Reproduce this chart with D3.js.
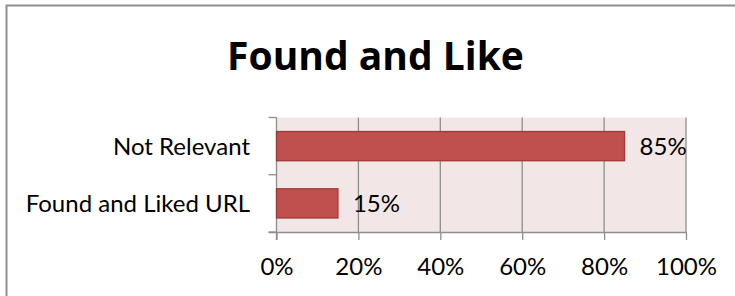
<!DOCTYPE html>
<html>
<head>
<meta charset="utf-8">
<script src="https://cdn.jsdelivr.net/npm/d3@7"></script>
<style>
  body { margin: 0; background: #fff; }
  svg text { font-family: Lato, "Open Sans", sans-serif; fill: #000; }
</style>
</head>
<body>
<svg id="viz" width="735" height="296"></svg>
<script>
"use strict";
const categories = ["Not Relevant", "Found and Liked URL"];
const shares = [0.85, 0.15];
const xTicks = [0, 0.2, 0.4, 0.6, 0.8, 1.0];
const chartTitle = "Found and Like";

const svg = d3.select("#viz");
const margin = { top: 117.5, left: 276.5, bottom: 64, right: 49 };
const w = 735, h = 296;

// outer chart frame (only left and top edges fall inside the window)
svg.append("rect")
    .attr("x", 6.5).attr("y", 5.5)
    .attr("width", 760).attr("height", 320)
    .attr("fill", "none").attr("stroke", "#8e8e8e").attr("stroke-width", 2);

svg.append("text")
    .attr("x", 375.5).attr("y", 70)
    .attr("text-anchor", "middle")
    .style("font-family", "'Open Sans', Lato, sans-serif")
    .style("font-size", "39px").style("font-weight", "bold")
    .text(chartTitle);

const xScale = d3.scaleLinear().domain([0, 1]).range([margin.left, w - margin.right]);
const yScale = d3.scaleBand().domain(categories)
    .range([margin.top, h - margin.bottom])
    .paddingInner(0.49).paddingOuter(0.245);

// plot background
svg.append("rect")
    .attr("x", xScale(0)).attr("y", yScale.range()[0])
    .attr("width", xScale(1) - xScale(0))
    .attr("height", yScale.range()[1] - yScale.range()[0])
    .attr("fill", "#f2e6e6");

// vertical gridlines
svg.append("g").selectAll("line")
    .data(xTicks.slice(1))
    .enter().append("line")
    .attr("x1", d => xScale(d)).attr("x2", d => xScale(d))
    .attr("y1", yScale.range()[0]).attr("y2", yScale.range()[1])
    .attr("stroke", "#8e8e8e").attr("stroke-width", 1.3);

const xAxis = d3.axisBottom(xScale)
    .tickValues(xTicks)
    .tickFormat(d3.format(".0%"))
    .tickSize(8).tickSizeOuter(0).tickPadding(18);
const gx = svg.append("g")
    .attr("transform", `translate(0, ${yScale.range()[1]})`)
    .call(xAxis);
gx.select(".domain").attr("stroke", "#8e8e8e").attr("stroke-width", 1.3)
    .attr("d", `M${xScale(0) - 8},0.5H${xScale(1)}`);
gx.selectAll(".tick line").attr("stroke", "#8e8e8e").attr("stroke-width", 1.3);
gx.selectAll(".tick text").style("font-size", "24px").attr("dy", "0.71em");

// left axis: line with tick marks at band boundaries
const bounds = d3.range(categories.length + 1).map(i => yScale.range()[0] + i * yScale.step());
svg.append("line")
    .attr("x1", xScale(0)).attr("x2", xScale(0))
    .attr("y1", yScale.range()[0]).attr("y2", yScale.range()[1] + 8)
    .attr("stroke", "#8e8e8e").attr("stroke-width", 1.3);
svg.append("g").selectAll("line")
    .data(bounds)
    .enter().append("line")
    .attr("x1", xScale(0) - 8).attr("x2", xScale(0))
    .attr("y1", d => d).attr("y2", d => d)
    .attr("stroke", "#8e8e8e").attr("stroke-width", 1.3);

svg.append("g").selectAll("text")
    .data(categories)
    .enter().append("text")
    .attr("x", 250)
    .attr("y", d => yScale(d) + yScale.bandwidth() / 2)
    .attr("dy", "0.36em")
    .attr("text-anchor", "end")
    .style("font-size", "24px")
    .text(d => d);

// bars
svg.append("g").selectAll("rect")
    .data(categories)
    .enter().append("rect")
    .attr("x", xScale(0))
    .attr("y", d => yScale(d))
    .attr("width", (d, i) => xScale(shares[i]) - xScale(0))
    .attr("height", yScale.bandwidth())
    .attr("fill", "#c0504d")
    .attr("stroke", "#9c3b38").attr("stroke-width", 1.3);

// data labels
svg.append("g").selectAll("text")
    .data(categories)
    .enter().append("text")
    .attr("x", (d, i) => xScale(shares[i]) + 15)
    .attr("y", d => yScale(d) + yScale.bandwidth() / 2)
    .attr("dy", "0.36em")
    .style("font-size", "24px")
    .text((d, i) => d3.format(".0%")(shares[i]));
</script>
</body>
</html>
